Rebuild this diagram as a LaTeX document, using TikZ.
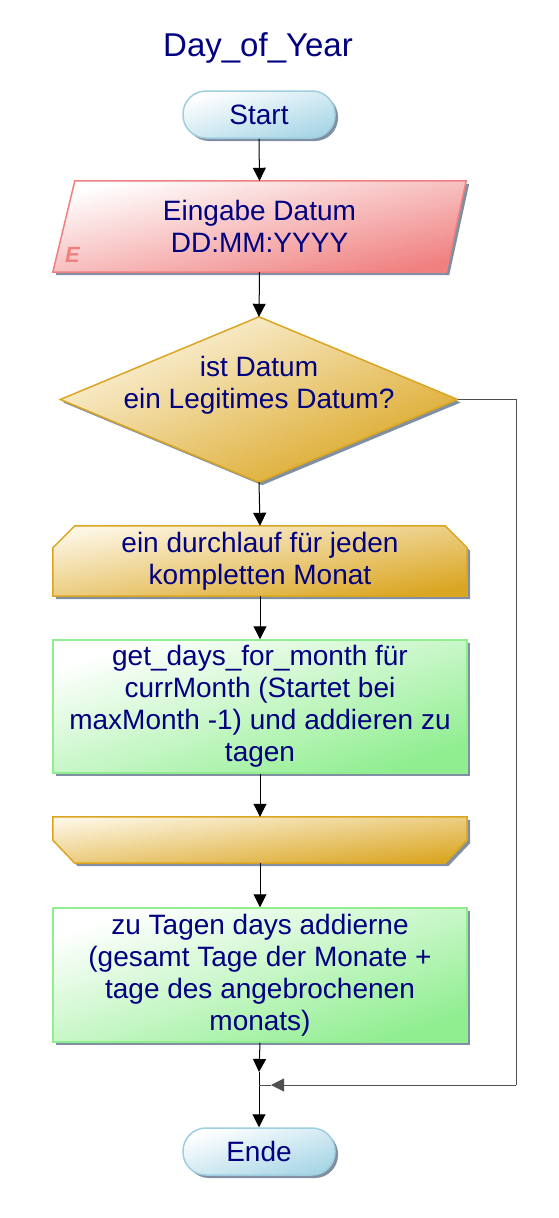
\documentclass[tikz,border=0pt]{standalone}
\usepackage{fontspec}
\setmainfont{Liberation Sans}
\usetikzlibrary{arrows.meta,shadows,backgrounds,calc}
\definecolor{txt}{RGB}{0,0,128}
\definecolor{termB}{RGB}{158,206,224}
\definecolor{termC}{RGB}{168,214,230}
\definecolor{inB}{RGB}{240,128,128}
\definecolor{goldB}{RGB}{218,165,32}
\definecolor{goldL}{RGB}{253,246,228}
\definecolor{grnB}{RGB}{144,238,144}
\definecolor{shc}{RGB}{128,144,162}
\definecolor{retc}{RGB}{80,80,80}
\tikzset{
  x=1pt, y=-1pt,
  box/.style={rectangle, draw=none, inner sep=0pt, text=txt, align=center,
    font=\fontsize{28}{32}\selectfont},
  shd/.style={drop shadow={shadow xshift=3pt, shadow yshift=-3pt, fill=shc, opacity=1}},
  term/.style={box, draw=termB, line width=1.5pt, rounded corners=23pt,
    minimum width=152pt, minimum height=47pt, top color=white, bottom color=termC,
    shading angle=17, shd},
  inshape/.style={draw=inB, line width=1.5pt, top color=white, bottom color=inB,
    shading angle=12.4, shd},
  goldshape/.style={draw=goldB, line width=1.5pt, top color=goldL, bottom color=goldB,
    shading angle=#1, shd},
  procbox/.style={box, draw=grnB, line width=1.5pt, minimum width=414pt,
    top color=white, bottom color=grnB, shading angle=18, shd},
  arr/.style={draw=black, line width=1pt, -{Triangle[length=13pt,width=13pt]}},
  plain/.style={draw=black, line width=1pt},
  ret/.style={draw=retc, line width=1pt},
  retarr/.style={ret, -{Triangle[length=13pt,width=13pt]}},
}
\begin{document}
\begin{tikzpicture}
\useasboundingbox (0,0) rectangle (559,1218);

\node[box, font=\fontsize{33}{38}\selectfont] (title) at (258,48) {Day\_of\_Year};
\node[term] (start) at (259,114.5) {Start};

\node[box, minimum width=413pt, minimum height=91pt] (inp) at (259.5,226.5) {Eingabe Datum\\DD:MM:YYYY};
\node[box, minimum width=397pt, minimum height=165pt] (dia) at (259,399.5) {};
\node[box, minimum width=414pt, minimum height=70pt] (loopA) at (260,561) {ein durchlauf für jeden\\kompletten Monat};
\node[procbox, minimum height=133pt] (p1) at (260,706.5) {get\_days\_for\_month für\\currMonth (Startet bei\\maxMonth -1) und addieren zu\\tagen};
\node[box, minimum width=414pt, minimum height=46pt] (loopB) at (260,840) {};
\node[procbox, minimum height=134pt] (p2) at (260,975) {zu Tagen days addierne\\(gesamt Tage der Monate +\\tage des angebrochenen\\monats)};
\node[term] (ende) at (259,1151.5) {Ende};

\begin{pgfonlayer}{background}
\fill[white] (0,0) rectangle (559,1218);
\path[inshape] ([xshift=22pt]inp.north west) -- (inp.north east)
  -- ([xshift=-20pt]inp.south east) -- (inp.south west) -- cycle;
\path[goldshape=22.6] (dia.north) -- (dia.east) -- (dia.south) -- (dia.west) -- cycle;
\path[goldshape=9.6] ([yshift=-22pt]loopA.north west) -- ([xshift=22pt]loopA.north west)
  -- ([xshift=-22pt]loopA.north east) -- ([yshift=-22pt]loopA.north east)
  -- (loopA.south east) -- (loopA.south west) -- cycle;
\path[goldshape=6.3] (loopB.north west) -- (loopB.north east)
  -- ([yshift=23pt]loopB.south east) -- ([xshift=-22pt]loopB.south east)
  -- ([xshift=22pt]loopB.south west) -- ([yshift=23pt]loopB.south west) -- cycle;
\end{pgfonlayer}

\node[box, font=\bfseries\itshape\fontsize{22}{24}\selectfont, text=inB] (elab) at (72.5,255) {E};
\node[box] (diat) at (259,385) {ist Datum\\ein Legitimes Datum?};

\coordinate (j) at (259,1085);
\coordinate (ja) at (259,1072);
\coordinate (rc) at (516,1085);
\coordinate (jr) at (271,1085);

\draw[arr] (start.south) -- (inp.north);
\draw[arr] (inp.south) -- (dia.north);
\draw[arr] (dia.south) -- (loopA.north);
\draw[arr] (loopA.south) -- (p1.north);
\draw[arr] (p1.south) -- (loopB.north);
\draw[arr] (loopB.south) -- (p2.north);
\draw[arr] (p2.south) -- (ja);
\draw[plain] (ja) -- (j);
\draw[arr] (j) -- (ende.north);
\draw[ret] (dia.east) -| (rc);
\draw[retarr] (rc) -- (jr);
\draw[ret] (jr) -- (j);
\end{tikzpicture}
\end{document}
